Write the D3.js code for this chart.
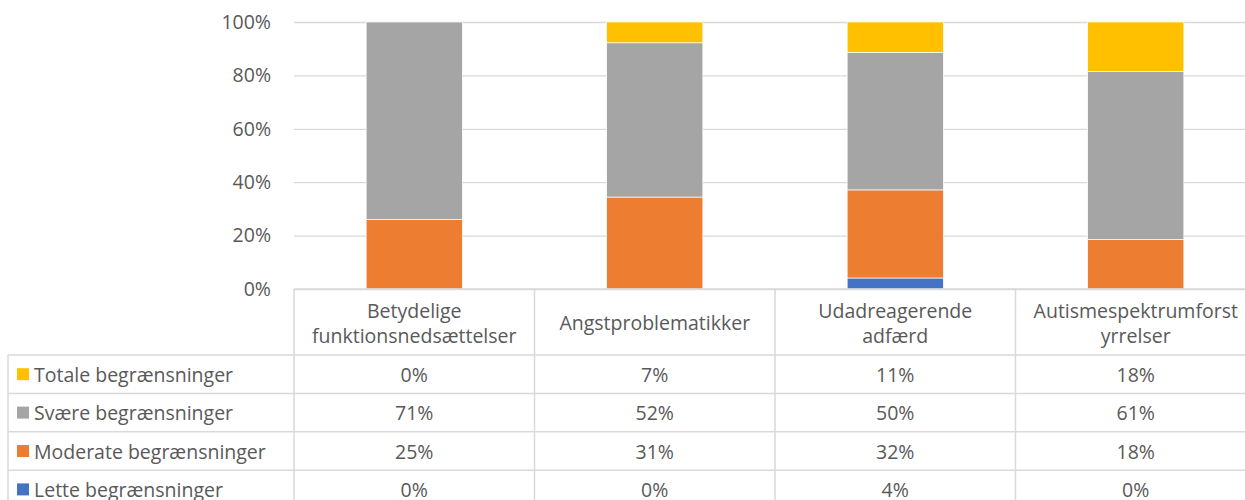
<!DOCTYPE html>
<html>
<head>
<meta charset="utf-8">
<script src="https://cdn.jsdelivr.net/npm/d3@7"></script>
<style>
  body { margin: 0; background: #fff; overflow: hidden; }
  text { font-family: 'Open Sans', sans-serif; fill: #595959; }
</style>
</head>
<body>
<div id="container"></div>
<script>
// data
const categories = [
  'Betydelige funktionsnedsættelser',
  'Angstproblematikker',
  'Udadreagerende adfærd',
  'Autismespektrumforstyrrelser'
];
// how each category label wraps in its table cell
const categoryLines = [
  ['Betydelige', 'funktionsnedsættelser'],
  ['Angstproblematikker'],
  ['Udadreagerende', 'adfærd'],
  ['Autismespektrumforst', 'yrrelser']
];
const seriesNames = [
  'Lette begrænsninger',
  'Moderate begrænsninger',
  'Svære begrænsninger',
  'Totale begrænsninger'
];
const lette = [0, 0, 4, 0];
const moderate = [25, 31, 32, 18];
const svaere = [71, 52, 50, 61];
const totale = [0, 7, 11, 18];
const yTicks = [0, 0.2, 0.4, 0.6, 0.8, 1];

const colors = ['#4472C4', '#ED7D31', '#A5A5A5', '#FFC000'];
const seriesValues = [lette, moderate, svaere, totale];

const svgWidth = 1245;
const svgHeight = 500;
const plotLeft = 294;
const cellWidth = 240.5;
const plotTop = 22;
const plotBottom = 289;
const headerHeight = 66;
const rowHeight = 38.4;
const legendLeft = 8;
const gridColor = '#d9d9d9';
const fontSize = 19.5;

const svg = d3
  .select('#container')
  .append('svg')
  .attr('width', svgWidth)
  .attr('height', svgHeight);

const table = categories.map((c, i) => {
  const row = { category: c };
  seriesNames.forEach((s, j) => (row[s] = seriesValues[j][i]));
  return row;
});

const stacked = d3
  .stack()
  .keys(seriesNames)
  .offset(d3.stackOffsetExpand)(table);

// scales
const xScale = d3
  .scaleBand()
  .domain(categories)
  .range([plotLeft, plotLeft + cellWidth * categories.length])
  .paddingInner(0.6)
  .paddingOuter(0.3);

const yScale = d3.scaleLinear().domain([0, 1]).range([plotBottom, plotTop]);

// gridlines + y axis
const yAxis = d3
  .axisLeft(yScale)
  .tickValues(yTicks)
  .tickFormat(d3.format('.0%'))
  .tickSize(-(cellWidth * categories.length))
  .tickPadding(23);

svg
  .append('g')
  .attr('transform', `translate(${plotLeft}, 0)`)
  .call(yAxis)
  .call(g => g.select('.domain').remove())
  .call(g => g.selectAll('line').attr('stroke', gridColor).attr('stroke-width', 1.3))
  .call(g =>
    g.selectAll('text')
      .attr('font-size', fontSize)
      .attr('fill', '#595959')
      .attr('font-family', "'Open Sans', sans-serif")
  );

// bars
svg
  .append('g')
  .selectAll('g')
  .data(stacked)
  .join('g')
  .attr('fill', (d, i) => colors[i])
  .selectAll('rect')
  .data(d => d)
  .join('rect')
  .attr('x', d => xScale(d.data.category))
  .attr('width', xScale.bandwidth())
  .attr('y', d => yScale(d[1]))
  .attr('height', d => yScale(d[0]) - yScale(d[1]))
  .attr('stroke', '#fff')
  .attr('stroke-width', 0.7);

// data table
const tableG = svg.append('g');
const tableRight = plotLeft + cellWidth * categories.length;
const tableRows = seriesNames.slice().reverse();
const rowsTop = plotBottom + headerHeight;
const tableBottom = rowsTop + rowHeight * tableRows.length;

// horizontal lines
tableG
  .append('line')
  .attr('x1', plotLeft).attr('x2', tableRight)
  .attr('y1', plotBottom).attr('y2', plotBottom);
tableG
  .selectAll('.hline')
  .data(d3.range(tableRows.length + 1))
  .join('line')
  .attr('x1', legendLeft).attr('x2', tableRight)
  .attr('y1', i => rowsTop + i * rowHeight)
  .attr('y2', i => rowsTop + i * rowHeight);

// vertical lines
tableG
  .selectAll('.vline')
  .data(d3.range(categories.length + 1))
  .join('line')
  .attr('x1', i => plotLeft + i * cellWidth)
  .attr('x2', i => plotLeft + i * cellWidth)
  .attr('y1', plotBottom)
  .attr('y2', tableBottom);
tableG
  .append('line')
  .attr('x1', legendLeft).attr('x2', legendLeft)
  .attr('y1', rowsTop).attr('y2', tableBottom);

tableG.selectAll('line').attr('stroke', gridColor).attr('stroke-width', 1.5);

// header labels
const headerG = tableG
  .selectAll('.header')
  .data(categories)
  .join('text')
  .attr('text-anchor', 'middle')
  .attr('font-size', fontSize)
  .attr('x', d => xScale(d) + xScale.bandwidth() / 2)
  .attr('y', (d, i) => plotBottom + headerHeight / 2 - (categoryLines[i].length - 1) * 12.5)
  .attr('dominant-baseline', 'central');

headerG
  .selectAll('tspan')
  .data((d, i) => categoryLines[i])
  .join('tspan')
  .attr('x', function () {
    return this.parentNode.getAttribute('x');
  })
  .attr('dy', (d, i) => (i === 0 ? 0 : 25))
  .text(d => d);

// row legend + values
tableRows.forEach((s, r) => {
  const cy = rowsTop + r * rowHeight + rowHeight / 2;
  const si = seriesNames.indexOf(s);
  tableG
    .append('rect')
    .attr('x', 17)
    .attr('y', cy - 6)
    .attr('width', 12)
    .attr('height', 12)
    .attr('fill', colors[si]);
  tableG
    .append('text')
    .attr('x', 34)
    .attr('y', cy)
    .attr('dominant-baseline', 'central')
    .attr('font-size', fontSize)
    .text(s);
  tableG
    .selectAll(null)
    .data(categories)
    .join('text')
    .attr('x', d => xScale(d) + xScale.bandwidth() / 2)
    .attr('y', cy)
    .attr('text-anchor', 'middle')
    .attr('dominant-baseline', 'central')
    .attr('font-size', fontSize)
    .text((d, i) => `${seriesValues[si][i]}%`);
});
</script>
</body>
</html>
